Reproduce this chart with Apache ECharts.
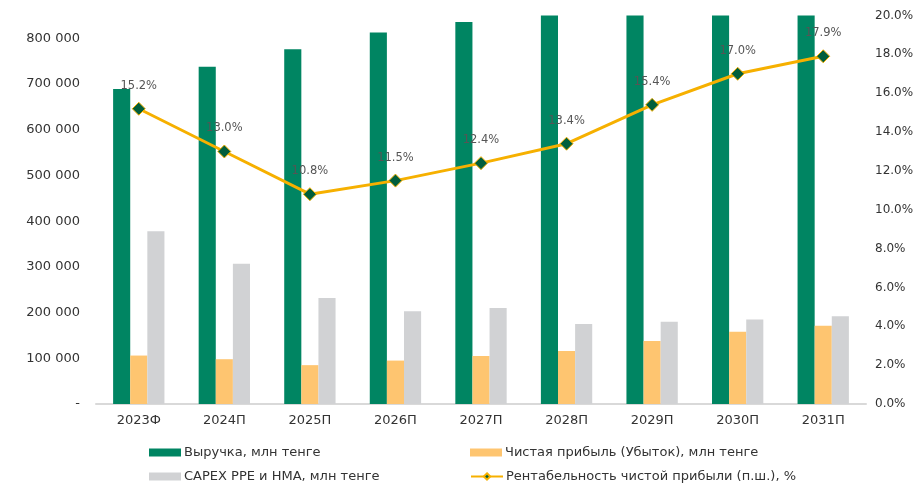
<!DOCTYPE html>
<html>
<head>
<meta charset="utf-8">
<script src="https://cdn.jsdelivr.net/npm/echarts@6/dist/echarts.min.js"></script>
<style>html,body{margin:0;padding:0;background:#fff;}#c{width:919px;height:483px;}</style>
</head>
<body>
<div id="c"></div>
<script>
var categories = ['2023Ф','2024П','2025П','2026П','2027П','2028П','2029П','2030П','2031П'];
var revenue = [689000, 738000, 776000, 813000, 836000, 858000, 885000, 915000, 945000];
var netProfit = [106000, 98000, 85000, 95000, 105000, 116000, 138000, 158000, 171000];
var capex = [378000, 307000, 232000, 203000, 210000, 175000, 180000, 185000, 192000];
var margin = [15.2, 13.0, 10.8, 11.5, 12.4, 13.4, 15.4, 17.0, 17.9];
var seriesNames = ['Выручка, млн тенге','Чистая прибыль (Убыток), млн тенге','CAPEX PPE и НМА, млн тенге','Рентабельность чистой прибыли (п.ш.), %'];

var FONT = 'DejaVu Sans';
function leg(name, left, top, icon){
  var l = {left:left, top:top, orient:'horizontal', itemWidth:32, itemHeight:8, itemGap:0,
    textStyle:{fontFamily:FONT, fontSize:13, color:'#333', padding:[0,0,0,-2]}, data:[name]};
  if (icon) l.icon = icon;
  return l;
}
var chart = echarts.init(document.getElementById('c'), null, {renderer:'canvas'});
chart.setOption({
  animation:false,
  backgroundColor:'#ffffff',
  textStyle:{fontFamily:FONT},
  grid:{left:96, right:53, top:15.5, bottom:79, containLabel:false},
  legend:[
    leg(seriesNames[0], 144, 441, 'rect'),
    leg(seriesNames[1], 465, 441, 'rect'),
    leg(seriesNames[2], 144, 465, 'rect'),
    leg(seriesNames[3], 465, 465)
  ],
  xAxis:{
    type:'category', data:categories,
    axisLine:{lineStyle:{color:'#d9d9d9', width:2}},
    axisTick:{show:false},
    axisLabel:{fontFamily:FONT, fontSize:13, color:'#333', margin:10}
  },
  yAxis:[
    {type:'value', min:0, max:850000, interval:100000,
     splitLine:{show:false}, axisLine:{show:false}, axisTick:{show:false},
     axisLabel:{fontFamily:FONT, fontSize:13, color:'#333', margin:16, showMaxLabel:false,
       formatter:function(v){ if(v===0) return '-'; if(v>800000) return ''; return String(v).replace(/\B(?=(\d{3})+(?!\d))/g,' '); }}},
    {type:'value', min:0, max:20, interval:2, position:'right',
     splitLine:{show:false}, axisLine:{show:false}, axisTick:{show:false},
     axisLabel:{fontFamily:FONT, fontSize:12, color:'#333', margin:9,
       formatter:function(v){ return v.toFixed(1)+'%'; }}}
  ],
  series:[
    {name:seriesNames[0], type:'bar', data:revenue, yAxisIndex:0, barGap:'0%', barCategoryGap:'40%',
     itemStyle:{color:'#008562'}, clip:true},
    {name:seriesNames[1], type:'bar', data:netProfit, yAxisIndex:0, barGap:'0%', barCategoryGap:'40%',
     itemStyle:{color:'#fec570'}},
    {name:seriesNames[2], type:'bar', data:capex, yAxisIndex:0, barGap:'0%', barCategoryGap:'40%',
     itemStyle:{color:'#d1d2d4'}},
    {name:seriesNames[3], type:'line', data:margin, yAxisIndex:1, z:5,
     lineStyle:{color:'#f6b000', width:3},
     symbol:'diamond', symbolSize:13,
     itemStyle:{color:'#005e3c', borderColor:'#f6b000', borderWidth:1},
     label:{show:true, position:'top', distance:10, fontFamily:FONT, fontSize:11.5, color:'#555',
       formatter:function(p){ return p.value.toFixed(1)+'%'; }}}
  ]
});
</script>
</body>
</html>
